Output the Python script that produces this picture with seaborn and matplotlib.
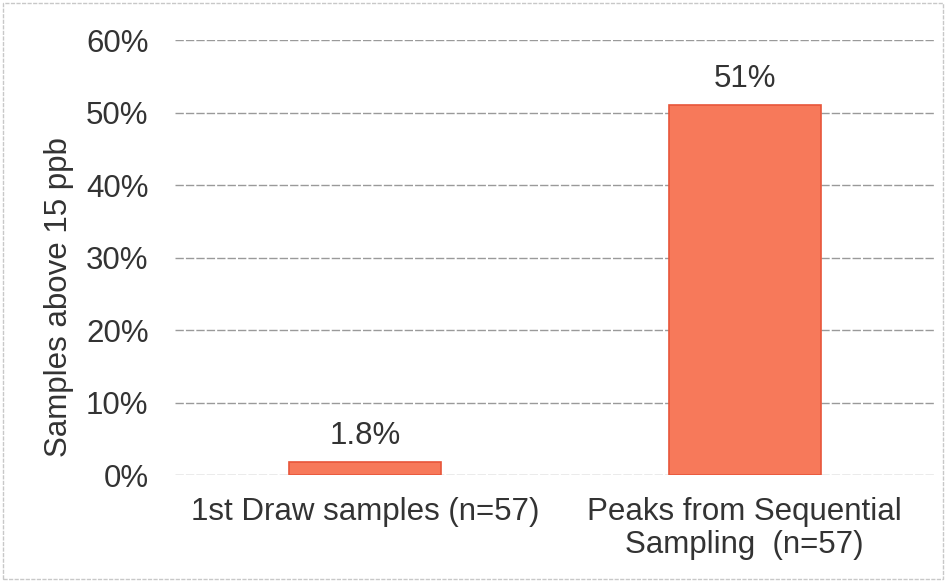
import matplotlib
matplotlib.use("Agg")
import matplotlib.pyplot as plt
import seaborn as sns
import pandas as pd
from matplotlib.ticker import PercentFormatter

categories = ["1st Draw samples (n=57)", "Peaks from Sequential\nSampling  (n=57)"]
values = [1.8, 51]
labels = ["1.8%", "51%"]
yticks = [0, 10, 20, 30, 40, 50, 60]

df = pd.DataFrame({"cat": categories, "pct": values})

sns.set_style("white")
plt.rcParams["font.family"] = ["Liberation Sans", "DejaVu Sans"]

fig = plt.figure(figsize=(9.46, 5.81), dpi=100)
ax = fig.add_axes([0.185, 0.182, 0.803, 0.749])

sns.barplot(data=df, x="cat", y="pct", color="#f7795a", saturation=1,
            width=0.4, edgecolor="#e8553a", linewidth=1.2, ax=ax, zorder=3)

fs = 22.5
ax.set_ylim(0, 60)
ax.set_yticks(yticks)
ax.yaxis.set_major_formatter(PercentFormatter(decimals=0))
ax.grid(axis="y", color="#9a9a9a", linewidth=1, linestyle=(0, (6, 1.5)), zorder=0)
for s in ax.spines.values():
    s.set_visible(False)
ax.tick_params(axis="both", length=0, labelsize=fs, colors="#333333")
ax.tick_params(axis="x", pad=16)
ax.tick_params(axis="y", pad=19)
ax.set_xlabel("")
ax.set_ylabel("Samples above 15 ppb", fontsize=fs, color="#333333")
ax.yaxis.set_label_coords(-0.133, 0.41)
for t in ax.get_xticklabels():
    t.set_linespacing(1.1)

for p, t in zip(ax.patches, labels):
    ax.annotate(t, (p.get_x() + p.get_width() / 2, p.get_height()),
                xytext=(0, 8), textcoords="offset points",
                ha="center", va="bottom", fontsize=fs, color="#333333")

# light frame around the figure, as in the scanned original
fig.patches.append(plt.Rectangle((0.003, 0.003), 0.994, 0.992, transform=fig.transFigure,
                                 fill=False, edgecolor="#c8c8c8", linewidth=1,
                                 linestyle=(0, (3, 1))))

fig.savefig("out.png", dpi=100)
